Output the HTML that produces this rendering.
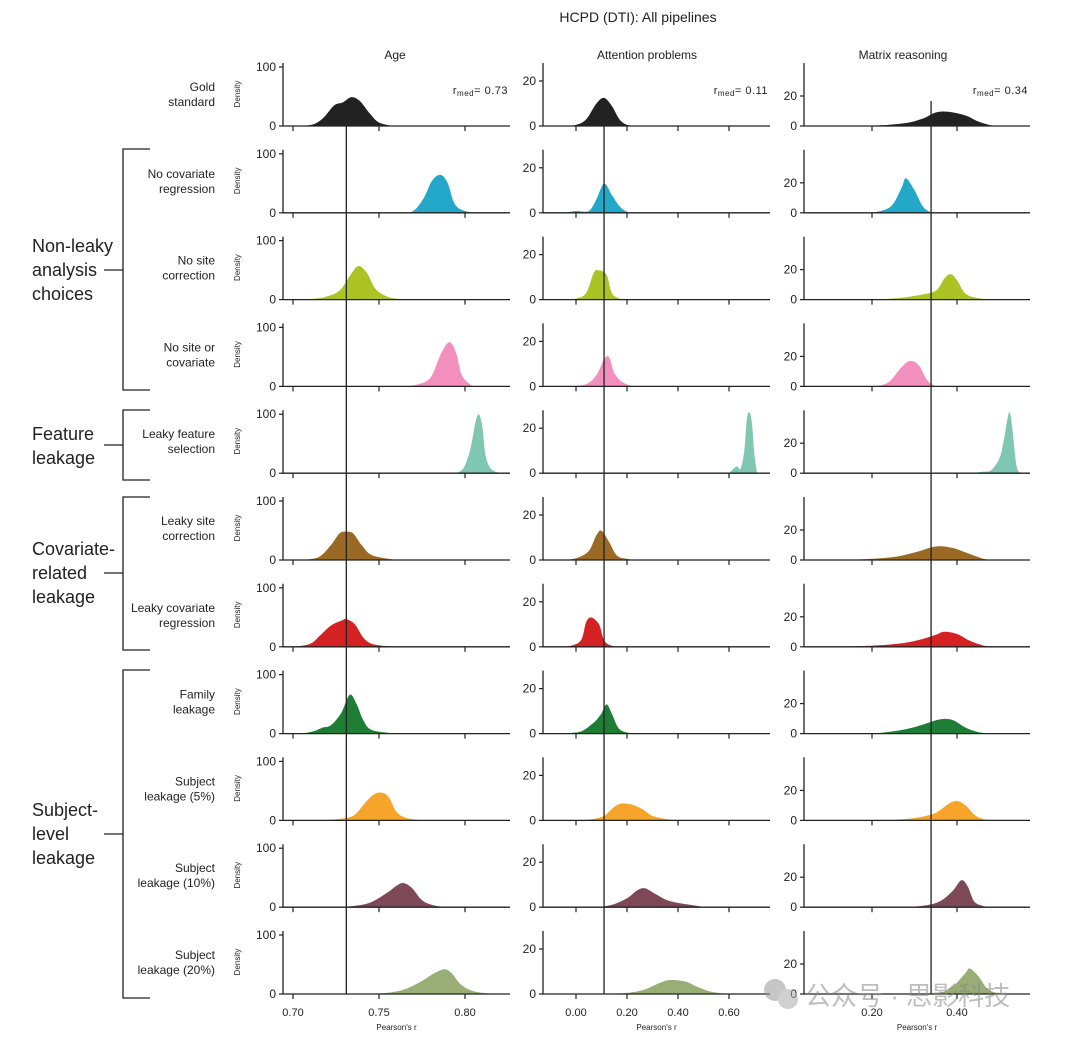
<!DOCTYPE html>
<html><head><meta charset="utf-8">
<style>
html,body{margin:0;padding:0;background:#fff;}
svg{display:block;font-family:"Liberation Sans","Noto Sans CJK SC",sans-serif;}
</style></head>
<body>
<svg id="chart" width="1080" height="1040" viewBox="0 0 1080 1040">
<text x="638" y="22" font-size="14" text-anchor="middle" fill="#222">HCPD (DTI): All pipelines</text>
<text x="395" y="59" font-size="12" text-anchor="middle" fill="#222">Age</text>
<text x="647" y="59" font-size="12" text-anchor="middle" fill="#222">Attention problems</text>
<text x="903" y="59" font-size="12" text-anchor="middle" fill="#222">Matrix reasoning</text>
<g id="groups" fill="none" stroke="#222" stroke-width="1.3">
<path d="M150,149 H123 V390 H150 M123,270 H104"/>
<path d="M150,410 H123 V480 H150 M123,445 H104"/>
<path d="M150,497 H123 V650 H150 M123,573 H104"/>
<path d="M150,670 H123 V998 H150 M123,834 H104"/>
</g>
<g font-size="18" fill="#222">
<text x="32" y="252"><tspan x="32">Non-leaky</tspan><tspan x="32" dy="24">analysis</tspan><tspan x="32" dy="24">choices</tspan></text>
<text x="32" y="440"><tspan x="32">Feature</tspan><tspan x="32" dy="24">leakage</tspan></text>
<text x="32" y="555"><tspan x="32">Covariate-</tspan><tspan x="32" dy="24">related</tspan><tspan x="32" dy="24">leakage</tspan></text>
<text x="32" y="816"><tspan x="32">Subject-</tspan><tspan x="32" dy="24">level</tspan><tspan x="32" dy="24">leakage</tspan></text>
</g>
<g id="plot"></g>
<g opacity="0.55">
<circle cx="775" cy="990" r="11" fill="#999"/><circle cx="788" cy="999" r="10" fill="#aaa"/>
<text x="805" y="1005" font-size="26" fill="#888">公众号 · 思影科技</text>
</g>
</svg>
<script>
const rowLabels = [["Gold","standard"],["No covariate","regression"],["No site","correction"],["No site or","covariate"],["Leaky feature","selection"],["Leaky site","correction"],["Leaky covariate","regression"],["Family","leakage"],["Subject","leakage (5%)"],["Subject","leakage (10%)"],["Subject","leakage (20%)"]];
const rowColors = ["#222222","#23a8c9","#abc423","#f28fbd","#7fc6b3","#9a6a25","#d42222","#1e7d35","#f7a52a","#7d4957","#99ae75"];
const medians = [0.731, 0.11, 0.339];
const medianLabels = ["0.73","0.11","0.34"];
const ageTicks = [0.70,0.75,0.80];
const attTicks = [0.00,0.20,0.40,0.60];
const matTicks = [0.20,0.40];
const matTickMarks = [0.20,0.40];
const yTickVals = [100,20,20];

const ageXs = [
[0.703,0.712,0.718,0.724,0.729,0.734,0.739,0.745,0.750,0.758],
[0.764,0.770,0.776,0.781,0.786,0.790,0.794,0.800,0.808],
[0.706,0.718,0.727,0.733,0.738,0.743,0.748,0.755,0.764],
[0.764,0.772,0.780,0.786,0.791,0.795,0.798,0.803,0.806],
[0.794,0.799,0.803,0.806,0.808,0.810,0.812,0.815,0.820],
[0.705,0.715,0.722,0.727,0.731,0.735,0.740,0.746,0.760],
[0.700,0.710,0.716,0.722,0.728,0.731,0.736,0.741,0.747,0.760],
[0.705,0.712,0.717,0.722,0.728,0.733,0.737,0.741,0.746,0.760],
[0.712,0.725,0.735,0.742,0.747,0.752,0.756,0.760,0.766,0.776],
[0.722,0.735,0.745,0.755,0.760,0.764,0.769,0.775,0.782,0.790],
[0.742,0.755,0.765,0.775,0.782,0.788,0.792,0.798,0.806,0.818]];
const ageYs = [
[0,3,15,35,40,49,42,20,6,0],
[0,3,25,55,64,50,15,3,0],
[0,4,15,40,57,45,18,5,0],
[0,3,15,55,75,55,20,3,0],
[0,8,40,85,100,80,30,8,0],
[0,5,25,45,48,45,25,8,0],
[0,5,20,36,44,47,38,15,4,0],
[0,4,10,14,35,66,50,22,6,0],
[0,2,8,30,44,47,38,15,4,0],
[0,2,8,25,36,41,33,12,3,0],
[0,2,8,22,35,42,36,15,4,0]];

const attXs = [
[-0.06,0.0,0.04,0.08,0.11,0.14,0.17,0.20,0.24],
[-0.04,0.0,0.05,0.08,0.11,0.14,0.17,0.20,0.23],
[-0.06,0.0,0.04,0.07,0.09,0.12,0.14,0.17,0.20],
[-0.02,0.04,0.08,0.11,0.13,0.15,0.18,0.22],
[0.60,0.63,0.645,0.66,0.67,0.68,0.69,0.70,0.71],
[-0.06,0.0,0.05,0.08,0.10,0.13,0.16,0.20,0.24],
[-0.08,-0.02,0.02,0.04,0.06,0.09,0.11,0.14,0.20],
[-0.06,0.0,0.03,0.06,0.08,0.10,0.12,0.14,0.17,0.22],
[0.0,0.06,0.11,0.15,0.18,0.22,0.26,0.30,0.36,0.42],
[0.08,0.14,0.20,0.24,0.27,0.31,0.36,0.42,0.51],
[0.10,0.20,0.27,0.33,0.37,0.43,0.48,0.53,0.60]];
const attYs = [
[0,0.5,3,10,12.5,9,3,0.5,0],
[0,0.8,0.8,6,13,8,3,0.5,0],
[0,0.5,3,12,13,11,3,0.5,0],
[0,1,5,12,13,6,2,0],
[0,3,2,10,24,27,22,8,0],
[0,0.8,4,11,13,8,2,0.5,0],
[0,0.5,3,11,13,10,3,0.5,0],
[0,0.5,1.5,4,6,9,13,9,2,0],
[0,0.5,2,6,7.5,7,5,2,0.5,0],
[0,1,4,7.5,8.4,6,3,1.5,0],
[0,0.5,2,5,6.2,5.5,3,1,0]];

const matXs = [
[0.15,0.22,0.28,0.32,0.35,0.38,0.42,0.45,0.48,0.50],
[0.20,0.23,0.25,0.27,0.28,0.30,0.32,0.34],
[0.20,0.26,0.31,0.35,0.37,0.385,0.40,0.42,0.45,0.49],
[0.21,0.24,0.27,0.29,0.31,0.33,0.35],
[0.43,0.46,0.48,0.50,0.51,0.52,0.525,0.53,0.54,0.55],
[0.09,0.18,0.25,0.30,0.35,0.39,0.43,0.46,0.48],
[0.08,0.18,0.26,0.31,0.35,0.37,0.40,0.43,0.46,0.48],
[0.16,0.22,0.28,0.32,0.36,0.39,0.42,0.45,0.48],
[0.20,0.26,0.31,0.35,0.38,0.40,0.42,0.44,0.46,0.49],
[0.26,0.32,0.36,0.39,0.41,0.425,0.44,0.46,0.48],
[0.31,0.36,0.39,0.42,0.43,0.45,0.47,0.49,0.52]];
const matYs = [
[0,0.5,2,5,9,9.5,7,3,0.5,0],
[0,2,6,17,23,15,4,0],
[0,1,3,6,14,17,13,4,1,0],
[0,3,13,17,14,4,0],
[0,1,2,10,22,38,40,30,5,0],
[0,0.5,2,5,9,8,4,1,0],
[0,0.5,2,4.5,8,10,8.5,4,1,0],
[0,0.5,3,6,9.5,9,4,1,0],
[0,0.5,2,5,11,13,10,4,1,0],
[0,1,4,11,18,14,4,1,0],
[0,1,5,14,17,12,4,1,0]];

const NS = "http://www.w3.org/2000/svg";
const plot = document.getElementById("plot");
function mk(tag, attrs, parent){ const e=document.createElementNS(NS,tag); for(const k in attrs) e.setAttribute(k,attrs[k]); (parent||plot).appendChild(e); return e; }

const cols = [
 {axisX:283, endX:510, xs:ageXs, ys:ageYs, ticks:ageTicks, tickMarks:ageTicks, fmt:v=>v.toFixed(2),
  sx:v=>293+(v-0.70)*1720, pxPerUnit:0.59},
 {axisX:543, endX:770, xs:attXs, ys:attYs, ticks:attTicks, tickMarks:attTicks, fmt:v=>v.toFixed(2),
  sx:v=>576+v*255, pxPerUnit:2.25},
 {axisX:804, endX:1030, xs:matXs, ys:matYs, ticks:matTicks, tickMarks:matTickMarks, fmt:v=>v.toFixed(2),
  sx:v=>787+v*425, pxPerUnit:1.5}
];
const baseY = r => 126 + r*86.8;

function smoothPath(pts, base){
  let d = "M"+pts[0][0].toFixed(1)+","+base.toFixed(1)+" L"+pts[0][0].toFixed(1)+","+pts[0][1].toFixed(1);
  for(let i=0;i<pts.length-1;i++){
    const p0=pts[Math.max(0,i-1)], p1=pts[i], p2=pts[i+1], p3=pts[Math.min(pts.length-1,i+2)];
    const c1x=p1[0]+(p2[0]-p0[0])/6, c1y=Math.min(base,p1[1]+(p2[1]-p0[1])/6);
    const c2x=p2[0]-(p3[0]-p1[0])/6, c2y=Math.min(base,p2[1]-(p3[1]-p1[1])/6);
    d+=" C"+c1x.toFixed(1)+","+c1y.toFixed(1)+" "+c2x.toFixed(1)+","+c2y.toFixed(1)+" "+p2[0].toFixed(1)+","+p2[1].toFixed(1);
  }
  d+=" L"+pts[pts.length-1][0].toFixed(1)+","+base.toFixed(1)+" Z";
  return d;
}

rowLabels.forEach((lab,r)=>{
  const b=baseY(r);
  const t=mk("text",{x:215,y:b-35,"font-size":12,"text-anchor":"end",fill:"#222"});
  
  
  const s1=mk("tspan",{x:215},t); s1.textContent=lab[0];
  const s2=mk("tspan",{x:215,dy:15},t); s2.textContent=lab[1];
});

cols.forEach((c,ci)=>{
  for(let r=0;r<11;r++){
    const b=baseY(r);
    const g=mk("g",{});
    
    
    const pts=c.xs[r].map((x,i)=>[c.sx(x), b - c.ys[r][i]*c.pxPerUnit]);
    const p=mk("path",{d:smoothPath(pts,b),fill:rowColors[r],stroke:"none"},g);
    
    
    const ax=mk("path",{d:"M"+c.axisX+","+(b-63)+" V"+b+" H"+c.endX,fill:"none",stroke:"#222","stroke-width":1.3},g);
    
    
    c.tickMarks.forEach(v=>{
      const tk=mk("line",{x1:c.sx(v),x2:c.sx(v),y1:b,y2:b+5,stroke:"#222","stroke-width":1.2},g);
      
      
    });
    [0,yTickVals[ci]].forEach(v=>{
      const y=b-v*c.pxPerUnit;
      const tk=mk("line",{x1:c.axisX-4,x2:c.axisX,y1:y,y2:y,stroke:"#222","stroke-width":1.2},g);
      
      
      const tl=mk("text",{x:c.axisX-7,y:y+4,"font-size":12,"text-anchor":"end",fill:"#222"},g);
      
      
      tl.textContent=String(v);
    });
    if(ci===0){
      const dl=mk("text",{x:0,y:0,"font-size":8,"text-anchor":"middle",fill:"#222",transform:"translate(240,"+(b-32)+") rotate(-90)"},g);
      
      
      dl.textContent="Density";
    }
  }
  const mx=c.sx(medians[ci]);
  const ml=mk("line",{x1:mx,x2:mx,y1:baseY(0)-25,y2:baseY(10),stroke:"#222","stroke-width":1.3});
  
  
  const ra=mk("text",{x:c.endX-2,y:94,"font-size":11,"text-anchor":"end",fill:"#222","letter-spacing":"0.5"});
  
  
  const a=mk("tspan",{},ra); a.textContent="r";
  const s=mk("tspan",{"font-size":8,dy:2},ra); s.textContent="med";
  const e=mk("tspan",{dy:-2},ra); e.textContent="= "+medianLabels[ci];
  const b=baseY(10);
  c.ticks.forEach(v=>{
    const tl=mk("text",{x:c.sx(v),y:b+22,"font-size":11,"text-anchor":"middle",fill:"#222"});
    
    
    tl.textContent=c.fmt(v);
  });
  const xt=mk("text",{x:(c.axisX+c.endX)/2,y:b+36,"font-size":8,"text-anchor":"middle",fill:"#222"});
  
  
  xt.textContent="Pearson's r";
});
</script>
</body></html>
